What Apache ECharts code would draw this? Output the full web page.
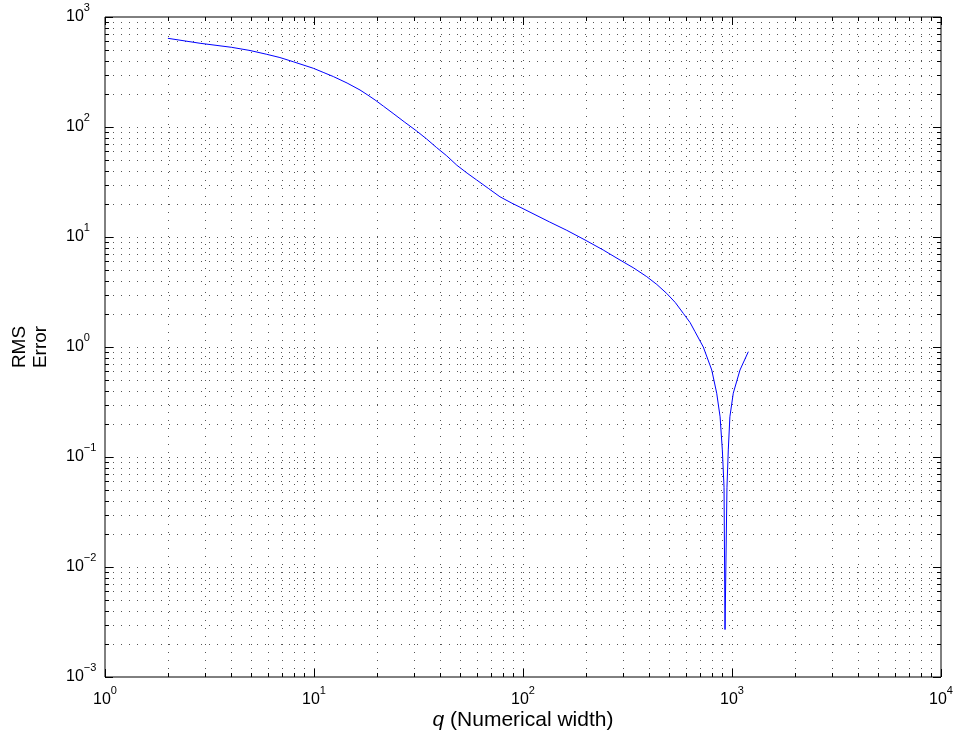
<!DOCTYPE html>
<html>
<head>
<meta charset="utf-8">
<script src="https://cdn.jsdelivr.net/npm/echarts@6/dist/echarts.min.js"></script>
<style>
html,body{margin:0;padding:0;background:#fff;}
#chart{width:954px;height:740px;}
</style>
</head>
<body>
<div id="chart"></div>
<script>
// ---- data ----
var qValues = [2, 2.85, 4.04, 4.94, 5.94, 6.87, 7.96, 9.92, 11.06, 12.4, 14.4, 16.6, 18.1, 19.6, 21.5, 23.9, 27.2, 31.0, 34.6, 38.6, 43.1, 48.2, 54.0, 60.0, 68.2, 77.6, 88.5, 100, 134, 162, 198, 242, 291, 339, 391, 437, 487, 535, 585, 630, 665, 729, 800, 845, 877, 899, 916, 926, 946, 960, 977, 1014, 1092, 1197];
var rmsValues = [640, 577, 530, 496, 458, 428, 392, 342, 314, 287, 251, 217, 195, 176, 154.5, 133, 110.4, 91.9, 77.8, 65, 54.8, 45, 38.1, 33, 27.7, 23.2, 20.3, 18.1, 13.7, 11.5, 9.4, 7.62, 6.18, 5.22, 4.36, 3.70, 3.07, 2.54, 2.02, 1.67, 1.38, 1.0, 0.618, 0.38, 0.232, 0.116, 0.053, 0.0027, 0.053, 0.116, 0.232, 0.38, 0.618, 0.906];

var xMajorTicks = [1, 10, 100, 1000, 10000];
var yMajorTicks = [0.001, 0.01, 0.1, 1, 10, 100, 1000];
var minorMultipliers = [2, 3, 4, 5, 6, 7, 8, 9];

var X_MIN = 1, X_MAX = 10000, Y_MIN = 0.001, Y_MAX = 1000;

// grid/tick items: [x, y, kind] kind 0=x major,1=x minor,2=y major,3=y minor
var gridItems = [];
xMajorTicks.forEach(function (v, i) {
  gridItems.push([v, 1, 0]);
  if (i < xMajorTicks.length - 1) minorMultipliers.forEach(function (m) { gridItems.push([v * m, 1, 1]); });
});
yMajorTicks.forEach(function (v, i) {
  gridItems.push([1, v, 2]);
  if (i < yMajorTicks.length - 1) minorMultipliers.forEach(function (m) { gridItems.push([1, v * m, 3]); });
});

var lineData = qValues.map(function (q, i) { return [q, rmsValues[i]]; });

var FONT = "'Liberation Sans', Arial, Helvetica, sans-serif";
function expLabel(v) {
  var e = Math.round(Math.log10(v));
  var s = e < 0 ? '\u2212' + (-e) : String(e);
  return '{b|10}{s|' + s + '}';
}
var labelRich = {
  b: { fontSize: 16, fontFamily: FONT, color: '#000', lineHeight: 16 },
  s: { fontSize: 11, fontFamily: FONT, color: '#000', lineHeight: 11, padding: [0, 0, 18, 0] }
};

var chart = echarts.init(document.getElementById('chart'), null, { renderer: 'canvas' });
chart.setOption({
  animation: false,
  backgroundColor: '#fff',
  grid: { left: 105, right: 13, top: 17, bottom: 63, show: true, borderColor: '#000', borderWidth: 1, backgroundColor: '#fff', containLabel: false, outerBoundsMode: 'none' },
  xAxis: {
    type: 'log', logBase: 10, min: X_MIN, max: X_MAX, interval: 1,
    axisLine: { show: false },
    axisTick: { show: false },
    splitLine: { show: false },
    axisLabel: { formatter: expLabel, rich: labelRich, margin: 15, showMinLabel: true, showMaxLabel: true, hideOverlap: false },
    name: '{i|q} (Numerical width)',
    nameLocation: 'middle', nameGap: 33, nameMoveOverlap: false,
    nameTextStyle: { fontSize: 21, fontFamily: FONT, color: '#000', rich: { i: { fontStyle: 'italic', fontSize: 21, fontFamily: FONT, color: '#000' } } }
  },
  yAxis: {
    type: 'log', logBase: 10, min: Y_MIN, max: Y_MAX, interval: 1, splitNumber: 6,
    axisLine: { show: false },
    axisTick: { show: false },
    splitLine: { show: false },
    axisLabel: { formatter: expLabel, rich: labelRich, margin: 39, align: 'left', showMinLabel: true, showMaxLabel: true, hideOverlap: false },
    name: 'RMS\nError',
    nameLocation: 'middle', nameGap: 54, nameRotate: 90, nameMoveOverlap: false,
    nameTextStyle: { fontSize: 19, fontFamily: FONT, color: '#000', lineHeight: 21 }
  },
  series: [
    {
      type: 'custom',
      silent: true,
      z: 1,
      clip: false,
      data: gridItems,
      encode: { x: 0, y: 1 },
      renderItem: function (params, api) {
        var kind = api.value(2);
        var children = [];
        var dotStyle = { stroke: '#555', lineWidth: 1, lineDash: [1, 7], fill: null };
        var tickStyle = { stroke: '#000', lineWidth: 1, fill: null };
        if (kind === 0 || kind === 1) {
          var xv = api.value(0);
          var pb = api.coord([xv, Y_MIN]);
          var pt = api.coord([xv, Y_MAX]);
          var x = Math.round(pb[0]) + 0.5;
          var len = kind === 0 ? 8 : 4;
          if (xv !== X_MIN && xv !== X_MAX) {
            children.push({ type: 'line', shape: { x1: x, y1: pb[1], x2: x, y2: pt[1] }, style: dotStyle });
          }
          children.push({ type: 'line', shape: { x1: x, y1: pb[1], x2: x, y2: pb[1] - len }, style: tickStyle });
          children.push({ type: 'line', shape: { x1: x, y1: pt[1], x2: x, y2: pt[1] + len }, style: tickStyle });
        } else {
          var yv = api.value(1);
          var pl = api.coord([X_MIN, yv]);
          var pr = api.coord([X_MAX, yv]);
          var y = Math.round(pl[1]) + 0.5;
          var len2 = kind === 2 ? 8 : 4;
          if (yv !== Y_MIN && yv !== Y_MAX) {
            children.push({ type: 'line', shape: { x1: pl[0], y1: y, x2: pr[0], y2: y }, style: dotStyle });
          }
          children.push({ type: 'line', shape: { x1: pl[0], y1: y, x2: pl[0] + len2, y2: y }, style: tickStyle });
          children.push({ type: 'line', shape: { x1: pr[0], y1: y, x2: pr[0] - len2, y2: y }, style: tickStyle });
        }
        return { type: 'group', children: children };
      }
    },
    {
      type: 'line',
      z: 3,
      data: lineData,
      showSymbol: false,
      symbol: 'none',
      smooth: false,
      lineStyle: { color: '#0000ff', width: 1 },
      silent: true
    }
  ]
});
</script>
</body>
</html>
